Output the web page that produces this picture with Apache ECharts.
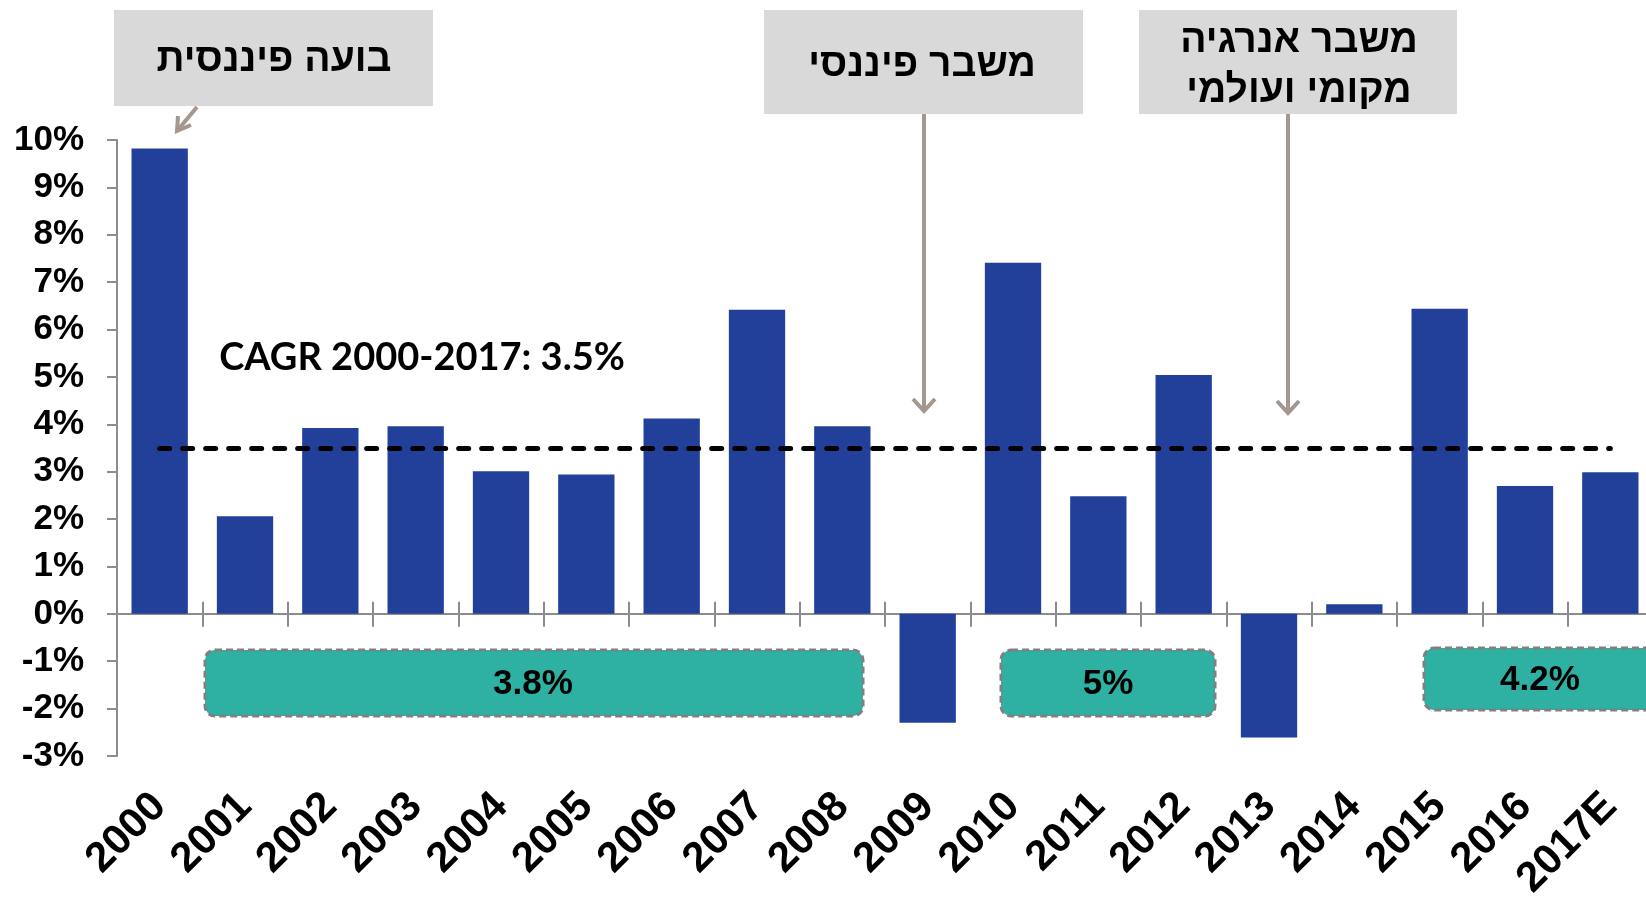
<!DOCTYPE html>
<html>
<head>
<meta charset="utf-8">
<script src="https://cdn.jsdelivr.net/npm/echarts@6/dist/echarts.min.js"></script>
<style>
html, body { margin: 0; padding: 0; background: #fff; }
#main { width: 1646px; height: 897px; }
</style>
</head>
<body>
<div id="main"></div>
<script>
// data
var years = ['2000', '2001', '2002', '2003', '2004', '2005', '2006', '2007', '2008',
    '2009', '2010', '2011', '2012', '2013', '2014', '2015', '2016', '2017E'];
var growth = [9.82, 2.06, 3.92, 3.96, 3.01, 2.94, 4.12, 6.42, 3.96,
    -2.30, 7.41, 2.48, 5.04, -2.61, 0.20, 6.44, 2.70, 2.99];
var cagr = 3.5;
var cagrLabel = 'CAGR 2000-2017: 3.5%';
var periodLabels = ['3.8%', '5%', '4.2%'];
var crisisLabels = ['בועה פיננסית', 'משבר פיננסי', 'משבר אנרגיה\nמקומי ועולמי'];

var axisGrey = '#8c8c8c';
var arrowColor = '#a3978f';
var fontName = '"Liberation Sans", Arial, "DejaVu Sans", sans-serif';

var chart = echarts.init(document.getElementById('main'));

function greyBox(x, y, w, h) {
    return {type: 'rect', z: 10, shape: {x: x, y: y, width: w, height: h}, style: {fill: '#d9d9d9'}};
}
function greenBox(x, y, w, h) {
    return {
        type: 'rect', z: 10,
        shape: {x: x, y: y, width: w, height: h, r: 10},
        style: {fill: '#2eb0a3', stroke: '#808080', lineWidth: 3, lineDash: [7, 4]}
    };
}
function label(text, x, y, font, lh) {
    return {
        type: 'text', z: 11,
        style: {
            text: text, x: x, y: y, font: font, fill: '#000', lineHeight: lh || 40,
            align: 'center', verticalAlign: 'middle',
            textAlign: 'center', textVerticalAlign: 'middle'
        }
    };
}
function arrow(x1, y1, x2, y2, head) {
    return [
        {type: 'line', z: 10, shape: {x1: x1, y1: y1, x2: x2, y2: y2},
            style: {stroke: arrowColor, lineWidth: 4}},
        {type: 'polyline', z: 10, shape: {points: head},
            style: {stroke: arrowColor, lineWidth: 4, fill: null, lineJoin: 'miter'}}
    ];
}

var graphics = [
    greyBox(114, 10, 319, 96),
    label(crisisLabels[0], 274, 60, 'bold 39px ' + fontName),
    greyBox(764, 10, 319, 104),
    label(crisisLabels[1], 922, 65, 'bold 39px ' + fontName),
    greyBox(1139, 10, 318, 104),
    label(crisisLabels[2], 1299, 66, 'bold 39px ' + fontName, 50),
    greenBox(205, 650, 658, 66),
    label(periodLabels[0], 533, 684, 'bold 35px ' + fontName),
    greenBox(1001, 650, 214, 66),
    label(periodLabels[1], 1108, 684, 'bold 35px ' + fontName),
    greenBox(1424, 648, 240, 62),
    label(periodLabels[2], 1540, 680, 'bold 35px ' + fontName),
    label(cagrLabel, 422, 358, 'bold 38px Lato, "Open Sans", sans-serif')
];
graphics = graphics
    .concat(arrow(197, 107, 177, 131, [[191, 125], [177, 131], [178, 116]]))
    .concat(arrow(924, 114, 924, 411, [[913, 399], [924, 411], [935, 399]]))
    .concat(arrow(1288, 114, 1288, 413, [[1277, 401], [1288, 413], [1299, 401]]));

var tickStyle = {color: axisGrey, width: 2};

var option = {
    animation: false,
    backgroundColor: '#fff',
    grid: {left: 117, right: -7, top: 140, bottom: 141, outerBoundsMode: 'none', containLabel: false},
    xAxis: [
        {
            type: 'category', data: years, position: 'bottom',
            axisLine: {onZero: true, onZeroAxisIndex: 0, lineStyle: tickStyle},
            axisTick: {show: true, interval: 0, length: 13, lineStyle: tickStyle},
            axisLabel: {show: false}
        },
        {
            // upper half of the crossing ticks
            type: 'category', data: years, position: 'bottom',
            axisLine: {show: true, onZero: true, onZeroAxisIndex: 0, lineStyle: tickStyle},
            axisTick: {show: true, inside: true, interval: 0, length: 12, lineStyle: tickStyle},
            axisLabel: {show: false}
        },
        {
            // year labels under the plot
            type: 'category', data: years, position: 'bottom',
            axisLine: {show: false, onZero: false},
            axisTick: {show: false},
            axisLabel: {
                interval: 0, rotate: 45, margin: 44,
                fontSize: 42, fontWeight: 'bold', fontFamily: fontName, color: '#000'
            }
        }
    ],
    yAxis: {
        type: 'value', min: -3, max: 10, interval: 1,
        axisLine: {show: true, lineStyle: tickStyle},
        axisTick: {show: true, length: 10, lineStyle: tickStyle},
        splitLine: {show: false},
        axisLabel: {
            formatter: '{value}%', margin: 33,
            fontSize: 35, fontWeight: 'bold', fontFamily: fontName, color: '#000'
        }
    },
    series: [
        {
            type: 'bar',
            data: growth,
            barWidth: '66%',
            itemStyle: {color: '#22409a'},
            markLine: {
                silent: true,
                symbol: ['none', 'none'],
                label: {show: false},
                lineStyle: {color: '#000', width: 5, type: [10, 13], cap: 'round'},
                data: [[{coord: [years[0], cagr]}, {coord: [years[years.length - 1], cagr]}]]
            }
        }
    ],
    graphic: graphics
};
chart.setOption(option);
</script>
</body>
</html>
